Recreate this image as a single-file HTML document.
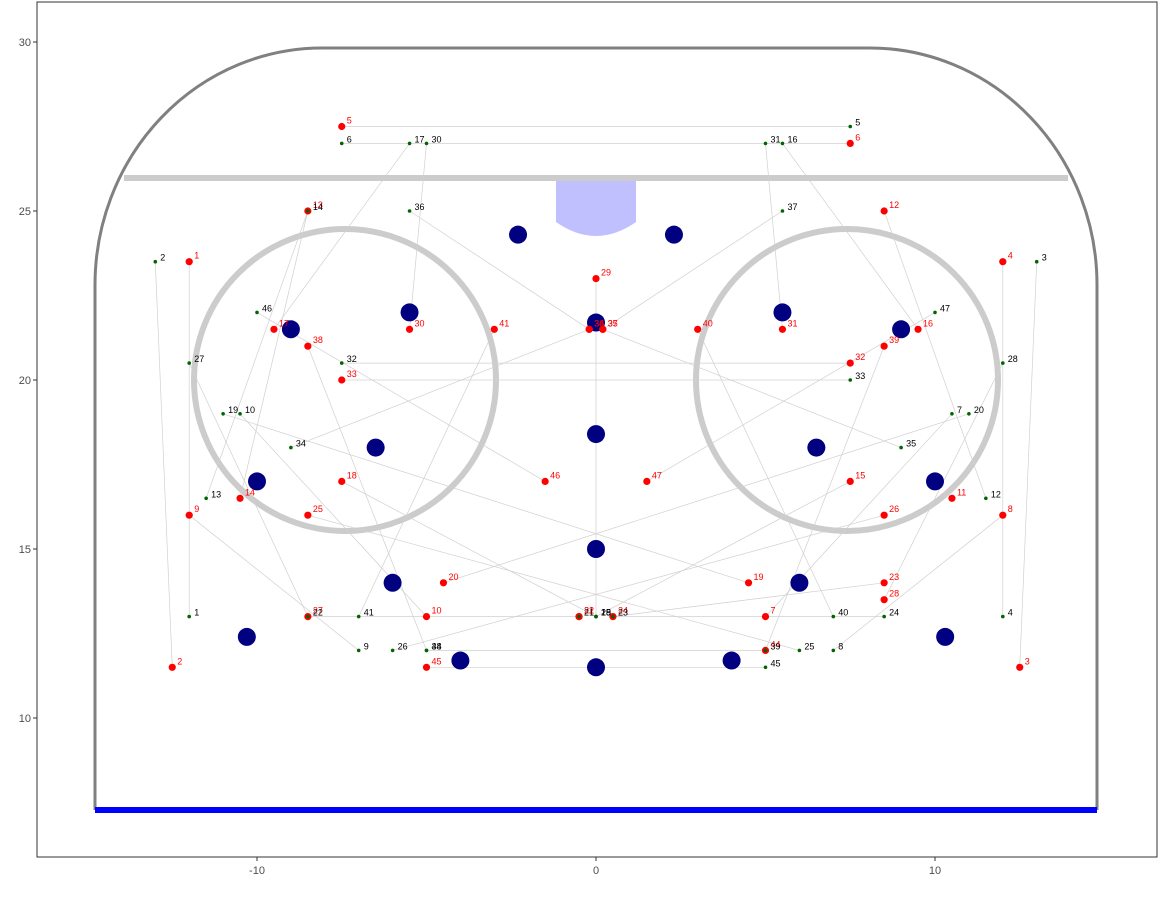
<!DOCTYPE html>
<html><head><meta charset="utf-8"><style>
body{margin:0;background:#fff;}
svg text{font-family:"Liberation Sans",sans-serif;}
</style></head><body>
<svg id="chart" width="1166" height="892" xmlns="http://www.w3.org/2000/svg">
<rect x="0" y="0" width="1166" height="892" fill="#fff"/>
<g id="rink">
  <path d="M95,810 L95,285 A227,237 0 0 1 322,48 L870,48 A227,237 0 0 1 1097,285 L1097,810" fill="none" stroke="#808080" stroke-width="3"/>
  <line x1="124" y1="178" x2="1068" y2="178" stroke="#cccccc" stroke-width="6"/>
  <path d="M556,181 L636,181 L636,222 Q596,250 556,222 Z" fill="#c0c0ff"/>
  <circle cx="345" cy="380" r="151" fill="none" stroke="#cccccc" stroke-width="6"/>
  <circle cx="847" cy="380" r="151" fill="none" stroke="#cccccc" stroke-width="6"/>
  <line x1="95" y1="810" x2="1097" y2="810" stroke="#0000ff" stroke-width="6"/>
</g>
<g id="lines"></g><g id="dots"></g><g id="pts"></g><g id="labels"></g>
<rect x="37" y="2" width="1120" height="855" fill="none" stroke="#333" stroke-width="1"/>
<g id="axes"></g>
</svg>
<script>
const spotX=[-2.3,2.3,-5.5,5.5,-9,9,0,-6.5,6.5,0,-10,10,0,-6,6,-10.3,10.3,-4,4,0];
const spotY=[24.3,24.3,22,22,21.5,21.5,21.7,18,18,18.4,17,17,15,14,14,12.4,12.4,11.7,11.7,11.5];
const defId=[1,2,3,4,5,6,7,8,9,10,11,12,13,14,15,16,17,18,19,20,21,22,23,24,25,26,27,28,29,30,31,32,33,34,35,36,37,38,39,40,41,44,45,46,47];
const defX=[-12,-12.5,12.5,12,-7.5,7.5,5,12,-12,-5,10.5,8.5,-8.5,-10.5,7.5,9.5,-9.5,-7.5,4.5,-4.5,-0.5,-0.5,8.5,0.5,-8.5,8.5,-8.5,8.5,0,-5.5,5.5,7.5,-7.5,-0.2,0.2,-0.2,0.2,-8.5,8.5,3,-3,5,-5,-1.5,1.5];
const defY=[23.5,11.5,11.5,23.5,27.5,27,13,16,16,13,16.5,25,25,16.5,17,21.5,21.5,17,14,14,13,13,14,13,16,16,13,13.5,23,21.5,21.5,20.5,20,21.5,21.5,21.5,21.5,21,21,21.5,21.5,12,11.5,17,17];
const offId=[1,2,3,4,5,6,7,8,9,10,12,13,14,15,16,17,18,19,20,21,22,23,24,25,26,27,28,29,30,31,32,33,34,35,36,37,38,39,40,41,44,45,46,47];
const offX=[-12,-13,13,12,7.5,-7.5,10.5,7,-7,-10.5,11.5,-11.5,-8.5,0,5.5,-5.5,0,-11,11,-0.5,-8.5,0.5,8.5,6,-6,-12,12,0,-5,5,-7.5,7.5,-9,9,-5.5,5.5,-5,5,7,-7,-5,5,-10,10];
const offY=[13,23.5,23.5,13,27.5,27,19,12,12,19,16.5,16.5,25,13,27,27,13,19,19,13,13,13,13,12,12,20.5,20.5,13,27,27,20.5,20,18,18,25,25,12,12,13,13,12,11.5,22,22];
const xTicks=[-10,0,10];
const yTicks=[10,15,20,25,30];
const sx=v=>596+v*33.9, sy=v=>42+(30-v)*33.8;
const NS='http://www.w3.org/2000/svg';
function mk(tag,parent,attrs){const e=document.createElementNS(NS,tag);for(const k in attrs)e.setAttribute(k,attrs[k]);document.getElementById(parent).appendChild(e);return e;}
defId.forEach((id,i)=>{const j=offId.indexOf(id);if(j<0)return;
  const l=mk('line','lines',{x1:sx(defX[i]),y1:sy(defY[i]),x2:sx(offX[j]),y2:sy(offY[j]),stroke:'#d0d0d0','stroke-width':0.7});
  
  });
spotX.forEach((x,i)=>{const c=mk('circle','dots',{cx:sx(x),cy:sy(spotY[i]),r:9,fill:'#000080'});
  
  });
defId.forEach((id,i)=>{const c=mk('circle','pts',{cx:sx(defX[i]),cy:sy(defY[i]),r:3.6,fill:'#ff0000'});
  
  
  const t=mk('text','labels',{x:sx(defX[i])+5,y:sy(defY[i])-3,'font-size':9,fill:'#ff0000'});t.textContent=id;
  
  });
offId.forEach((id,i)=>{const c=mk('circle','pts',{cx:sx(offX[i]),cy:sy(offY[i]),r:1.8,fill:'#006400'});
  
  
  const t=mk('text','labels',{x:sx(offX[i])+5,y:sy(offY[i])-1,'font-size':9,fill:'#000'});t.textContent=id;
  
  });
xTicks.forEach(v=>{const l=mk('line','axes',{x1:sx(v),x2:sx(v),y1:857,y2:861,stroke:'#333'});
  
  
  const t=mk('text','axes',{x:sx(v),y:874,'font-size':11,fill:'#4d4d4d','text-anchor':'middle'});t.textContent=v;
  
  });
yTicks.forEach(v=>{const l=mk('line','axes',{x1:33,x2:37,y1:sy(v),y2:sy(v),stroke:'#333'});
  
  
  const t=mk('text','axes',{x:31,y:sy(v)+4,'font-size':11,fill:'#4d4d4d','text-anchor':'end'});t.textContent=v;
  
  });
</script>
</body></html>
